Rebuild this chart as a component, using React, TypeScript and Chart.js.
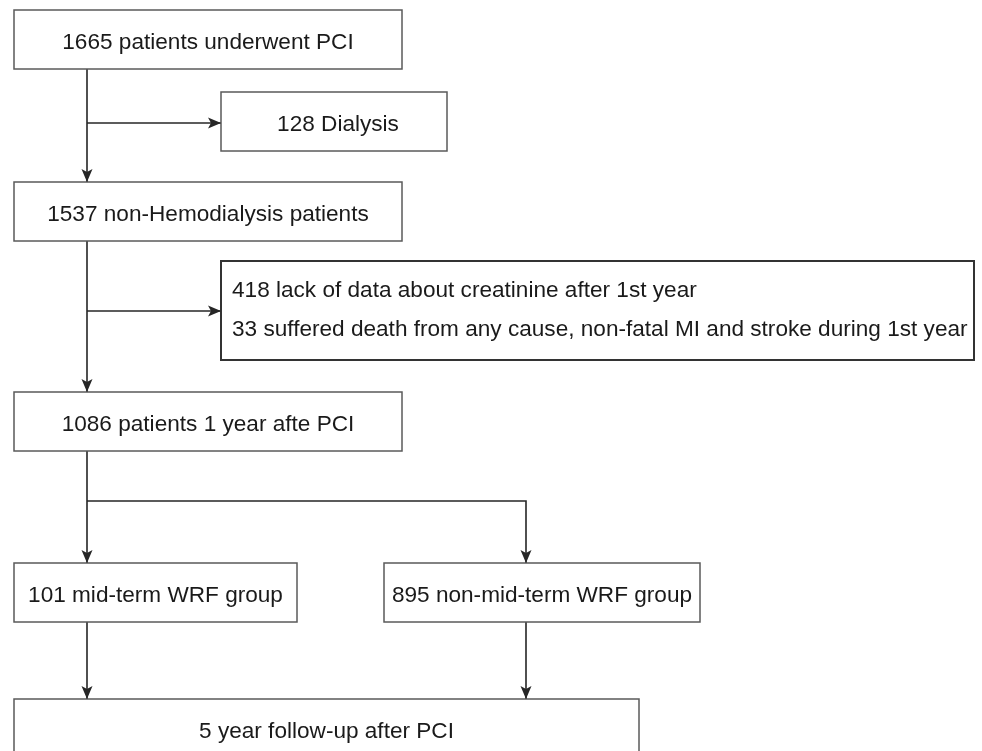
import React, { useEffect, useRef } from "react";
import { Chart, registerables } from "chart.js";

Chart.register(...registerables);

// ---- Flowchart content (data units = reference picture coordinates) ----
const boxLabels: string[][] = [
  ["1665 patients underwent PCI"],
  ["128 Dialysis"],
  ["1537 non-Hemodialysis patients"],
  [
    "418 lack of data about creatinine after 1st year",
    "33 suffered death from any cause, non-fatal MI and stroke during 1st year",
  ],
  ["1086 patients 1 year afte PCI"],
  ["101 mid-term WRF group"],
  ["895 non-mid-term WRF group"],
  ["5 year follow-up after PCI"],
];
const boxLeft = [14, 221, 14, 221, 14, 14, 384, 14];
const boxRight = [402, 447, 402, 974, 402, 297, 700, 639];
const boxTop = [10, 92, 182, 261, 392, 563, 563, 699];
const boxBottom = [69, 151, 241, 360, 451, 622, 622, 759];

// connectors: polylines, arrowhead at the last point
const connectorX: number[][] = [
  [87, 87],
  [87, 221],
  [87, 87],
  [87, 221],
  [87, 87],
  [87, 526, 526],
  [87, 87],
  [526, 526],
];
const connectorY: number[][] = [
  [69, 182],
  [123, 123],
  [241, 392],
  [311, 311],
  [451, 563],
  [501, 501, 563],
  [622, 699],
  [622, 699],
];

const FONT = '22.6px "Liberation Sans", Arial, Helvetica, sans-serif';
const LINE_COLOR = "#262626";
const BOX_COLOR = "#5a5a5a";
const TEXT_COLOR = "#1a1a1a";

const flowPlugin = {
  id: "flowPlugin",
  afterDatasetsDraw(chart: any) {
    const ctx: CanvasRenderingContext2D = chart.ctx;
    const xs = chart.scales.x;
    const ys = chart.scales.y;
    ctx.save();
    // boxes + text
    for (let i = 0; i < boxLabels.length; i++) {
      const l = xs.getPixelForValue(boxLeft[i]);
      const r = xs.getPixelForValue(boxRight[i]);
      const t = ys.getPixelForValue(boxTop[i]);
      const b = ys.getPixelForValue(boxBottom[i]);
      ctx.strokeStyle = i === 3 ? "#333333" : BOX_COLOR;
      ctx.lineWidth = i === 3 ? 2 : 1.5;
      ctx.strokeRect(l, t, r - l, b - t);
      ctx.fillStyle = TEXT_COLOR;
      ctx.font = FONT;
      ctx.textBaseline = "alphabetic";
      const lines = boxLabels[i];
      if (lines.length === 1) {
        ctx.textAlign = "center";
        ctx.fillText(lines[0], (l + r) / 2 + (i === 1 ? 4 : 0), (t + b) / 2 + 9);
      } else {
        ctx.textAlign = "left";
        lines.forEach((s, k) => {
          ctx.fillText(s, l + 11, t + 36 + k * 39);
        });
      }
    }
    // arrowheads
    ctx.fillStyle = LINE_COLOR;
    for (let i = 0; i < connectorX.length; i++) {
      const n = connectorX[i].length;
      const px = xs.getPixelForValue(connectorX[i][n - 1]);
      const py = ys.getPixelForValue(connectorY[i][n - 1]);
      const qx = xs.getPixelForValue(connectorX[i][n - 2]);
      const qy = ys.getPixelForValue(connectorY[i][n - 2]);
      let dx = px - qx;
      let dy = py - qy;
      const len = Math.hypot(dx, dy) || 1;
      dx /= len;
      dy /= len;
      const nx = -dy;
      const ny = dx;
      const L = 13;
      const W = 5.5;
      const N = 3;
      ctx.beginPath();
      ctx.moveTo(px, py);
      ctx.lineTo(px - dx * L + nx * W, py - dy * L + ny * W);
      ctx.lineTo(px - dx * (L - N), py - dy * (L - N));
      ctx.lineTo(px - dx * L - nx * W, py - dy * L - ny * W);
      ctx.closePath();
      ctx.fill();
    }
    ctx.restore();
  },
};

export default function App() {
  const canvasRef = useRef<HTMLCanvasElement | null>(null);

  useEffect(() => {
    const canvas = canvasRef.current;
    if (!canvas) return;
    const datasets = connectorX.map((xsArr, i) => ({
      label: "connector " + (i + 1),
      data: xsArr.map((x, k) => ({ x, y: connectorY[i][k] })),
      borderColor: LINE_COLOR,
      borderWidth: 1.6,
      pointRadius: 0,
      fill: false,
      tension: 0,
      showLine: true,
    }));
    const chart = new Chart(canvas, {
      type: "line",
      data: { datasets },
      options: {
        animation: false,
        responsive: false,
        maintainAspectRatio: false,
        devicePixelRatio: 1,
        events: [],
        layout: { padding: 0 },
        plugins: {
          legend: { display: false },
          tooltip: { enabled: false },
          title: { display: false },
        },
        scales: {
          x: { type: "linear", min: 0, max: 982, display: false },
          y: { type: "linear", min: 0, max: 751, reverse: true, display: false },
        },
      },
      plugins: [flowPlugin],
    } as any);
    return () => chart.destroy();
  }, []);

  return (
    <div
      style={{
        position: "absolute",
        left: 0,
        top: 0,
        width: 982,
        height: 751,
        background: "#ffffff",
      }}
    >
      <canvas ref={canvasRef} width={982} height={751} style={{ display: "block" }} />
    </div>
  );
}
